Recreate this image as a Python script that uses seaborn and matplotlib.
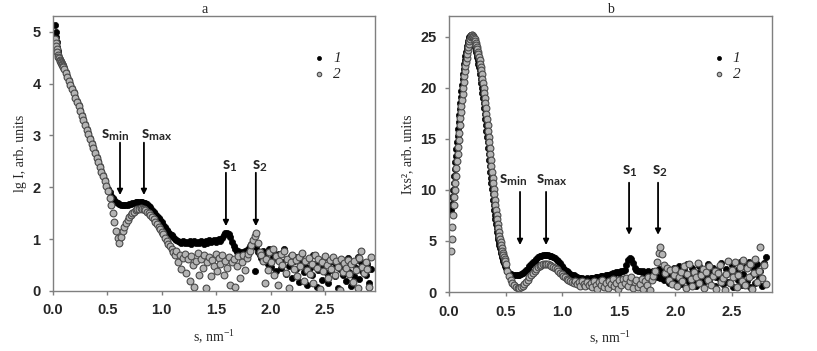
import matplotlib
matplotlib.use("Agg")
import matplotlib.pyplot as plt
import numpy as np
import pandas as pd
import seaborn as sns

# ---- panel a: lg I vs s (fine grid at start, then step 0.015) ----
s_a = np.concatenate([np.linspace(0.02, 0.095, 16), np.linspace(0.10, 2.92, 189)])

lgI_1 = [5.12, 5.00, 4.89, 4.80, 4.71, 4.63, 4.57, 4.52, 4.48, 4.46, 4.44, 4.42, 4.40, 4.38, 4.35, 4.33,
         4.30, 4.23, 4.15, 4.07, 3.99, 3.91, 3.83, 3.75, 3.67, 3.58,
         3.49, 3.40, 3.31, 3.22, 3.13, 3.04, 2.95, 2.86, 2.77, 2.68,
         2.59, 2.50, 2.41, 2.32, 2.23, 2.14, 2.05, 1.97, 1.90, 1.84,
         1.79, 1.75, 1.72, 1.69, 1.67, 1.66, 1.65, 1.65, 1.65, 1.66,
         1.67, 1.68, 1.69, 1.70, 1.71, 1.71, 1.72, 1.72, 1.71, 1.70,
         1.69, 1.67, 1.64, 1.61, 1.57, 1.53, 1.49, 1.45, 1.41, 1.37,
         1.33, 1.28, 1.23, 1.18, 1.14, 1.10, 1.07, 1.04, 1.01, 0.99,
         0.97, 0.95, 0.93, 0.96, 0.92, 0.95, 0.93, 0.97, 0.91, 0.94,
         0.96, 0.92, 0.95, 0.93, 0.97, 0.94, 0.91, 0.96, 0.93, 0.98,
         0.94, 0.97, 0.99, 0.95, 0.98, 1.00, 0.96, 1.03, 1.07, 1.11,
         1.12, 1.09, 1.04, 0.95, 0.86, 0.80, 0.75, 0.78, 0.72, 0.76,
         0.71, 0.77, 0.74, 0.80, 0.86, 0.90, 0.92, 0.38, 0.85, 0.76,
         0.70, 0.64, 0.78, 0.58, 0.72, 0.52, 0.81, 0.47, 0.66, 0.74,
         0.38, 0.60, 0.72, 0.45, 0.55, 0.80, 0.33, 0.61, 0.49, 0.68,
         0.25, 0.57, 0.42, 0.65, 0.18, 0.53, 0.71, 0.37, 0.48, 0.12,
         0.60, 0.44, 0.30, 0.69, 0.52, 0.08, 0.41, 0.58, 0.22, 0.47,
         0.65, 0.35, 0.15, 0.55, 0.40, 0.62, 0.28, 0.50, 0.05, 0.43,
         0.58, 0.31, 0.48, 0.20, 0.63, 0.37, 0.10, 0.52, 0.29, 0.45,
         0.66, 0.24, 0.55, 0.38, 0.47, 0.30, 0.52, 0.15, 0.42]

lgI_2 = [4.85, 4.78, 4.72, 4.66, 4.61, 4.56, 4.52, 4.49, 4.46, 4.44, 4.42, 4.40, 4.38, 4.36, 4.33, 4.31,
         4.28, 4.21, 4.13, 4.05, 3.97, 3.89, 3.81, 3.73, 3.65, 3.56,
         3.47, 3.38, 3.29, 3.20, 3.11, 3.02, 2.93, 2.84, 2.75, 2.66,
         2.57, 2.48, 2.39, 2.30, 2.21, 2.12, 2.03, 1.92, 1.80, 1.66,
         1.50, 1.33, 1.16, 1.02, 0.92, 1.05, 1.15, 1.23, 1.31, 1.37,
         1.42, 1.46, 1.50, 1.53, 1.56, 1.58, 1.59, 1.60, 1.59, 1.58,
         1.56, 1.53, 1.50, 1.46, 1.42, 1.38, 1.33, 1.29, 1.24, 1.19,
         1.14, 1.09, 1.03, 0.97, 0.91, 0.86, 0.80, 0.75, 0.70, 0.78,
         0.55, 0.69, 0.42, 0.63, 0.72, 0.35, 0.61, 0.19, 0.67, 0.50,
         0.08, 0.58, 0.74, 0.30, 0.62, 0.45, 0.70, 0.05, 0.56, 0.66,
         0.28, 0.60, 0.49, 0.71, 0.38, 0.64, 0.52, 0.69, 0.30, 0.58,
         0.45, 0.66, 0.12, 0.55, 0.62, 0.08, 0.48, 0.67, 0.25, 0.55,
         0.70, 0.40, 0.63, 0.72, 0.78, 0.88, 0.98, 1.06, 1.12, 0.92,
         0.76, 0.70, 0.58, 0.15, 0.62, 0.40, 0.75, 0.55, 0.80, 0.30,
         0.68, 0.12, 0.58, 0.72, 0.50, 0.78, 0.35, 0.62, 0.05, 0.55,
         0.70, 0.42, 0.60, 0.28, 0.66, 0.48, 0.73, 0.20, 0.57, 0.40,
         0.64, 0.33, 0.52, 0.15, 0.70, 0.45, 0.62, 0.03, 0.55, 0.38,
         0.68, 0.50, 0.25, 0.60, 0.42, 0.66, 0.30, 0.58, 0.47, 0.02,
         0.62, 0.36, 0.54, 0.45, 0.60, 0.33, 0.52, 0.18, 0.58, 0.40,
         0.05, 0.63, 0.77, 0.47, 0.35, 0.55, 0.42, 0.08, 0.66]

# ---- panel b: I*s^2 vs s (step 0.005 up to 0.495, then 0.015) ----
s_b = np.concatenate([np.linspace(0.02, 0.495, 96), np.linspace(0.50, 2.795, 154)])

Is2_1 = [8.0, 8.6, 9.3, 10.0, 10.7, 11.4, 12.0, 12.7, 13.3, 14.0,
         14.7, 15.3, 16.0, 16.6, 17.3, 17.9, 18.5, 19.1, 19.7, 20.3,
         20.8, 21.3, 21.8, 22.3, 22.7, 23.1, 23.5, 23.8, 24.1, 24.4,
         24.6, 24.8, 25.0, 25.1, 25.2, 25.2, 25.0, 24.9, 24.8, 24.6,
         24.4, 24.2, 24.0, 23.75, 23.5, 23.25, 23.0, 22.7, 22.35, 22.0,
         21.7, 21.3, 20.85, 20.45, 20.0, 19.5, 19.0, 18.5, 18.0, 17.45,
         16.9, 16.35, 15.8, 15.2, 14.65, 14.05, 13.5, 12.9, 12.35, 11.75,
         11.2, 10.65, 10.1, 9.55, 9.0, 8.5, 8.05, 7.55, 7.1, 6.7,
         6.3, 5.9, 5.5, 5.2, 4.9, 4.6, 4.3, 4.05, 3.85, 3.6,
         3.4, 3.2, 3.05, 2.85, 2.7, 2.55,
         2.40, 2.10, 1.90, 1.78, 1.70, 1.66, 1.65, 1.66, 1.70, 1.76,
         1.85, 1.97, 2.12, 2.30, 2.50, 2.70, 2.90, 3.08, 3.24, 3.38,
         3.48, 3.56, 3.60, 3.62, 3.62, 3.60, 3.56, 3.50, 3.42, 3.32,
         3.18, 3.00, 2.80, 2.58, 2.38, 2.20, 2.05, 1.92, 1.80, 1.70,
         1.62, 1.55, 1.48, 1.42, 1.38, 1.35, 1.32, 1.30, 1.33, 1.28,
         1.35, 1.40, 1.32, 1.45, 1.50, 1.42, 1.55, 1.60, 1.52, 1.65,
         1.70, 1.62, 1.78, 1.85, 1.75, 1.92, 1.98, 1.88, 2.05, 2.10,
         2.20, 2.60, 3.10, 3.35, 3.20, 2.85, 2.40, 2.15, 2.05, 2.10,
         1.95, 2.05, 1.90, 2.00, 2.10, 1.85, 1.95, 2.05, 1.70, 1.50,
         2.30, 1.40, 1.85, 1.20, 2.10, 1.55, 0.90, 1.95, 1.35, 2.40,
         1.10, 1.80, 2.55, 0.75, 1.60, 2.20, 1.30, 2.70, 0.95, 1.75,
         2.35, 1.15, 0.60, 1.90, 2.50, 1.40, 0.85, 2.10, 1.65, 2.75,
         1.05, 1.85, 2.40, 0.55, 1.50, 2.20, 1.25, 2.85, 0.80, 1.70,
         2.30, 1.00, 1.95, 2.60, 0.45, 1.55, 2.15, 1.20, 2.90, 0.70,
         1.80, 2.45, 1.10, 2.95, 0.50, 1.65, 2.25, 0.90, 2.70, 1.40,
         2.05, 0.60, 2.80, 3.40]

Is2_2 = [4.0, 5.2, 6.4, 7.5, 8.5, 9.3, 10.0, 10.7, 11.4, 12.1,
         12.8, 13.5, 14.2, 14.9, 15.6, 16.3, 17.0, 17.6, 18.2, 18.8,
         19.4, 20.0, 20.6, 21.1, 21.6, 22.1, 22.5, 22.9, 23.3, 23.7,
         24.0, 24.3, 24.6, 24.8, 25.0, 25.1, 25.2, 25.2, 25.1, 25.0,
         24.9, 24.8, 24.6, 24.4, 24.2, 24.0, 23.75, 23.5, 23.25, 23.0,
         22.7, 22.35, 22.0, 21.7, 21.3, 20.85, 20.45, 20.0, 19.5, 19.0,
         18.5, 18.0, 17.45, 16.9, 16.35, 15.8, 15.2, 14.65, 14.05, 13.5,
         12.9, 12.35, 11.75, 11.2, 10.65, 10.1, 9.55, 9.0, 8.5, 8.05,
         7.55, 7.1, 6.7, 6.3, 5.9, 5.5, 5.2, 4.9, 4.6, 4.3,
         4.05, 3.85, 3.6, 3.4, 3.2, 3.05,
         2.70, 2.10, 1.60, 1.20, 0.90, 0.65, 0.50, 0.42, 0.40, 0.48,
         0.62, 0.80, 1.00, 1.22, 1.45, 1.68, 1.90, 2.10, 2.28, 2.44,
         2.56, 2.66, 2.73, 2.76, 2.76, 2.73, 2.66, 2.58, 2.48, 2.36,
         2.22, 2.06, 1.90, 1.74, 1.58, 1.44, 1.30, 1.18, 1.08, 0.98,
         0.90, 1.10, 0.75, 0.95, 0.62, 1.05, 0.80, 0.55, 0.98, 0.70,
         0.85, 0.45, 1.10, 0.72, 0.30, 0.95, 0.65, 1.20, 0.50, 0.88,
         0.40, 1.05, 0.75, 1.25, 0.55, 0.90, 0.25, 1.15, 0.70, 1.30,
         0.85, 1.40, 0.60, 1.10, 1.50, 0.35, 0.95, 1.20, 0.50, 0.80,
         1.25, 0.30, 1.05, 0.65, 1.45, 0.20, 1.15, 1.60, 2.10, 2.90,
         3.80, 4.40, 3.70, 2.60, 1.90, 2.40, 1.20, 2.20, 0.80, 1.70,
         2.30, 0.60, 1.50, 2.00, 1.10, 2.50, 0.40, 1.80, 2.70, 1.30,
         0.55, 2.00, 1.45, 2.80, 0.90, 1.70, 2.30, 0.35, 1.95, 1.20,
         2.55, 0.70, 1.60, 2.10, 0.25, 1.85, 2.65, 1.00, 1.40, 0.15,
         1.75, 3.05, 0.85, 2.20, 1.50, 2.90, 0.50, 1.65, 2.45, 1.10,
         3.10, 0.65, 2.35, 1.45, 2.75, 0.30, 1.90, 3.20, 0.95, 2.10,
         4.40, 1.35, 2.60, 0.80]

xticks_a = [0.0, 0.5, 1.0, 1.5, 2.0, 2.5]
xtick_labels = ["0.0", "0.5", "1.0", "1.5", "2.0", "2.5"]
yticks_a = [0, 1, 2, 3, 4, 5]
yticks_b = [0, 5, 10, 15, 20, 25]

marks = [r"$\mathbf{s}_{\mathbf{min}}$", r"$\mathbf{s}_{\mathbf{max}}$",
         r"$\mathbf{s}_{\mathbf{1}}$", r"$\mathbf{s}_{\mathbf{2}}$"]
# (text x, text y, arrow x, arrow top, arrow tip)
marks_a = [(0.44, 3.01, 0.616, 2.86, 1.85), (0.81, 3.01, 0.836, 2.86, 1.85),
           (1.55, 2.41, 1.59, 2.28, 1.25), (1.83, 2.41, 1.865, 2.28, 1.25)]
marks_b = [(0.44, 11.0, 0.627, 9.8, 4.6), (0.77, 11.0, 0.857, 9.8, 4.6),
           (1.53, 11.8, 1.59, 10.7, 5.6), (1.79, 11.8, 1.846, 10.7, 5.6)]

sns.set_style("ticks")
plt.rcParams['font.family'] = ['Liberation Serif', 'DejaVu Serif']
plt.rcParams['mathtext.fontset'] = 'custom'
plt.rcParams['mathtext.rm'] = 'Liberation Serif'
plt.rcParams['mathtext.it'] = 'Liberation Serif:italic'
plt.rcParams['mathtext.bf'] = 'Lato:bold'

df_a = pd.DataFrame({'s': np.concatenate([s_a, s_a]),
                     'v': lgI_1 + lgI_2,
                     'curve': ['1'] * len(s_a) + ['2'] * len(s_a)})
df_b = pd.DataFrame({'s': np.concatenate([s_b, s_b]),
                     'v': Is2_1 + Is2_2,
                     'curve': ['1'] * len(s_b) + ['2'] * len(s_b)})

fig = plt.figure(figsize=(8.17, 3.51), dpi=100)
ax_a = fig.add_axes([0.0649, 0.171, 0.394, 0.783])
ax_b = fig.add_axes([0.5496, 0.168, 0.395, 0.786])


def draw(ax, df, xmax, ymax, yticks, ylabel, title, marks_pos, title_x, leg_anchor):
    sns.scatterplot(data=df[df.curve == '1'], x='s', y='v', ax=ax, color='black',
                    edgecolor='black', s=20, linewidth=0.5, label='1')
    sns.scatterplot(data=df[df.curve == '2'], x='s', y='v', ax=ax, color='#b4b4b4',
                    edgecolor='#4a4a4a', s=24, linewidth=0.8, label='2')
    ax.set_xlim(0, xmax)
    ax.set_ylim(0, ymax)
    ax.set_xticks(xticks_a)
    ax.set_xticklabels(xtick_labels, fontfamily='Liberation Sans', fontweight='bold', fontsize=10.5)
    ax.set_yticks(yticks)
    ax.set_yticklabels([str(t) for t in yticks], fontfamily='Liberation Sans', fontweight='bold', fontsize=10.5)
    ax.tick_params(direction='out', length=3, width=1, color='#7f7f7f', pad=6,
                   top=False, right=False)
    for sp in ax.spines.values():
        sp.set_color('#7f7f7f')
        sp.set_linewidth(1.0)
    ax.set_xlabel(r"s, nm$^{-1}$", fontsize=10, labelpad=8)
    ax.set_ylabel(ylabel, fontsize=10, labelpad=4)
    ax.set_title(title, fontsize=10, pad=2)
    ax.title.set_x(title_x)
    for lab, (tx, ty, ax_x, ay0, ay1) in zip(marks, marks_pos):
        ax.text(tx, ty, lab, fontsize=12, ha='left', va='center')
        ax.annotate('', xy=(ax_x, ay1), xytext=(ax_x, ay0),
                    arrowprops=dict(arrowstyle='-|>', color='black', lw=1.3,
                                    mutation_scale=8, shrinkA=0, shrinkB=0))
    leg = ax.legend(loc='upper left', bbox_to_anchor=leg_anchor, frameon=False,
                    prop={'family': 'Liberation Serif', 'style': 'italic', 'size': 11},
                    handletextpad=0.4, labelspacing=0.15, handlelength=1.0,
                    borderpad=0.2, markerscale=0.65)
    return leg


draw(ax_a, df_a, 2.96, 5.3, yticks_a, "lg I, arb. units", "a", marks_a, 0.47, (0.77, 0.91))
draw(ax_b, df_b, 2.85, 27.0, yticks_b, "Ixs\u00b2, arb. units", "b", marks_b, 0.5, (0.78, 0.91))

fig.savefig("out.png", dpi=100)
